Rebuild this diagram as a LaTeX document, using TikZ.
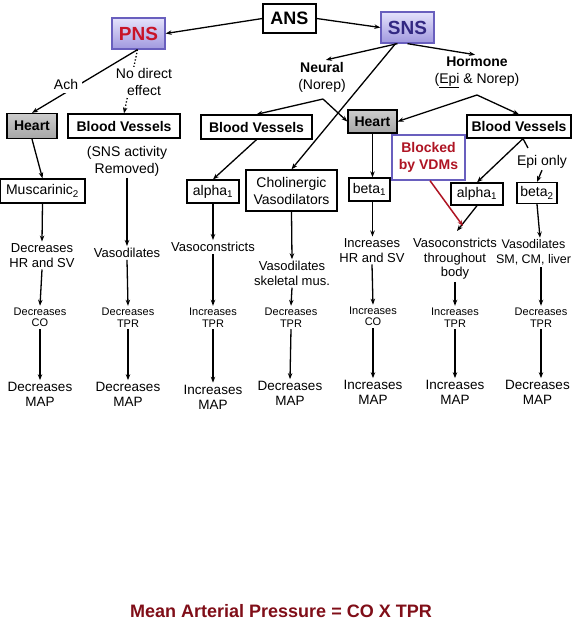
\documentclass[tikz,border=0pt]{standalone}
\usepackage{fontspec}
\setmainfont{Liberation Sans}
\usetikzlibrary{arrows.meta,calc}
\definecolor{pnsred}{RGB}{200,20,40}
\definecolor{snsblue}{RGB}{50,40,130}
\definecolor{lavtop}{RGB}{228,226,252}
\definecolor{lavbot}{RGB}{160,152,222}
\definecolor{lavdraw}{RGB}{105,95,190}
\definecolor{blkred}{RGB}{175,20,35}
\definecolor{titred}{RGB}{128,14,24}
\newcommand\fsz[2]{\fontsize{#1}{#2}\selectfont}
\begin{document}
\begin{tikzpicture}[x=1pt,y=-1pt,
  arr/.style={-{Stealth[length=6pt,width=4.5pt]}, line width=1.3pt},
  ln/.style={line width=1.3pt},
  box/.style={draw, line width=1.3pt, fill=white, inner sep=0pt, align=center, font=\fsz{14}{17}},
  bbox/.style={box, font=\bfseries\fsz{14}{17}},
  heartbox/.style={bbox, top color=gray!40, bottom color=gray!70},
  lavbox/.style={draw=lavdraw, line width=1.3pt, top color=lavtop, bottom color=lavbot, inner sep=0pt, font=\bfseries\fsz{19}{22}},
  lbl/.style={align=center, inner sep=1.5pt, font=\fsz{14}{17}},
  rtwo/.style={align=center, inner sep=2pt, font=\fsz{13}{14.5}},
  rthree/.style={align=center, inner sep=2pt, font=\fsz{11}{11.5}},
  rfour/.style={align=center, inner sep=2pt, font=\fsz{13.5}{15}},
]
\useasboundingbox[fill=white] (0,0) rectangle (572,633);

% top level
\node[box, font=\bfseries\fsz{18}{20}, minimum width=53pt, minimum height=29pt] (ANS) at (289.5,18.5) {ANS};
\node[lavbox, text=pnsred, minimum width=53pt, minimum height=31pt] (PNS) at (138.5,33.5) {PNS};
\node[lavbox, text=snsblue, minimum width=53pt, minimum height=31pt] (SNS) at (407.5,27.5) {SNS};

% second level boxes
\node[heartbox, minimum width=50pt, minimum height=25pt] (H1) at (32,126) {Heart};
\node[bbox, minimum width=112pt, minimum height=24pt] (BV1) at (124,126) {Blood Vessels};
\node[bbox, minimum width=111pt, minimum height=24pt] (BV2) at (256.5,127) {Blood Vessels};
\node[heartbox, minimum width=49pt, minimum height=23pt] (H2) at (372.5,121.5) {Heart};
\node[bbox, minimum width=104pt, minimum height=23pt] (BV3) at (519,126.5) {Blood Vessels};

% receptor boxes
\node[box, minimum width=85pt, minimum height=24pt] (MUS) at (42.5,191) {Muscarinic\textsubscript{2}};
\node[box, minimum width=52pt, minimum height=23pt] (AL1) at (213,191.5) {alpha\textsubscript{1}};
\node[box, minimum width=91pt, minimum height=41pt] (CHO) at (291.5,190.5) {Cholinergic\\Vasodilators};
\node[box, minimum width=41pt, minimum height=23pt] (BE1) at (369.5,189.5) {beta\textsubscript{1}};
\node[box, draw=lavdraw, text=blkred, font=\bfseries\fsz{14}{17}, minimum width=73pt, minimum height=45pt] (BLK) at (428.5,157.5) {Blocked\\by VDMs};
\node[box, minimum width=52pt, minimum height=22pt] (AL2) at (477,194) {alpha\textsubscript{1}};
\node[box, minimum width=40pt, minimum height=21pt] (BE2) at (537,193) {beta\textsubscript{2}};

% labels
\node[lbl] (NEU) at (322,77.5) {\textbf{Neural}\\(Norep)};
\node[lbl] (HOR) at (477,72.5) {\textbf{Hormone}\\(\underline{Epi} \& Norep)};
\node[lbl] (SNSA) at (127,161) {(SNS activity\\Removed)};
\node[lbl] (EPI) at (542,162) {Epi only};

% row 2
\node[rtwo] (R2a) at (42,255.5) {Decreases\\HR and SV};
\node[rtwo] (R2b) at (127,253) {Vasodilates};
\node[rtwo] (R2c) at (213,247) {Vasoconstricts};
\node[rtwo] (R2d) at (292,273.5) {Vasodilates\\skeletal mus.};
\node[rtwo] (R2e) at (372,250.5) {Increases\\HR and SV};
\node[rtwo] (R2f) at (455,259) {Vasoconstricts\\throughout\\body};
\node[rtwo, font=\fsz{12.5}{14.5}] (R2g) at (533.5,252.5) {Vasodilates\\SM, CM, liver};

% row 3
\node[rthree] (R3a) at (40,317.5) {Decreases\\CO};
\node[rthree] (R3b) at (128,317.5) {Decreases\\TPR};
\node[rthree] (R3c) at (213,317.5) {Increases\\TPR};
\node[rthree] (R3d) at (291,317.5) {Decreases\\TPR};
\node[rthree] (R3e) at (373,316.5) {Increases\\CO};
\node[rthree] (R3f) at (455,317.5) {Increases\\TPR};
\node[rthree] (R3g) at (541,317.5) {Decreases\\TPR};

% row 4
\node[rfour] (R4a) at (40,394.5) {Decreases\\MAP};
\node[rfour] (R4b) at (128,394.5) {Decreases\\MAP};
\node[rfour] (R4c) at (213,397) {Increases\\MAP};
\node[rfour] (R4d) at (290,393.5) {Decreases\\MAP};
\node[rfour] (R4e) at (373,392.5) {Increases\\MAP};
\node[rfour] (R4f) at (455,392.5) {Increases\\MAP};
\node[rfour] (R4g) at (537.5,392.5) {Decreases\\MAP};

% title
\node[font=\bfseries\fsz{18}{20}, text=titred] (TIT) at (281,611) {Mean Arterial Pressure = CO X TPR};

% helper coordinates
\coordinate (nb) at (323,99);
\coordinate (hb) at (477,95);
\coordinate (vtR) at (463,226);
\coordinate (vtA) at (457,231);
\coordinate (epitop) at (528,148);

% connectors top
\draw[arr] (ANS.west) -- (PNS.east);
\draw[arr] (ANS.east) -- (SNS.west);
\draw[arr] ($(PNS.south)+(-1,0)$) -- (H1.north);
\node[lbl, fill=white, inner sep=4pt] (ACH) at (66,84) {Ach};
\draw[arr, dotted] ($(PNS.south)+(-1,0)$) -- (BV1.north);
\node[lbl, fill=white, inner sep=1pt] (NOD) at (144,82) {No direct\\effect};
\draw[arr, shorten >=4pt] ($(SNS.south)+(-10,0)$) -- (NEU.north);
\draw[arr, shorten >=2pt] (SNS.south) -- (HOR.north);
\draw[arr] ($(SNS.south)+(-12,0)$) -- (CHO.north);
\draw[arr] (nb) -- (BV2.north);
\draw[arr] (nb) -- (H2.west);
\draw[arr] (hb) -- (H2.east);
\draw[arr] (hb) -- (BV3.north);

% second level to receptors
\draw[arr] (H1.south) -- (MUS.north);
\draw[arr] (BV2.south) -- (AL1.north);
\draw[arr] (H2.south) -- (H2.south |- BE1.north);
\draw[arr] ($(BV3.south)+(4,0)$) -- (AL2.north);
\draw[ln] ($(BV3.south)+(4,0)$) -- (epitop);
\draw[arr] (EPI.south) -- (BE2.north);

% receptors to row 2
\draw[arr] (MUS.south) -- (R2a.north);
\draw[arr] (SNSA.south) -- (R2b.north);
\draw[arr] (AL1.south) -- (R2c.north);
\draw[arr] (CHO.south) -- (R2d.north);
\draw[arr] (BE1.south -| H2.south) -- (R2e.north -| H2.south);
\draw[arr] (AL2.south) -- (vtA);
\draw[arr, draw=blkred, line width=1.5pt] ($(BLK.south)+(1.5,0)$) -- (vtR);
\draw[arr] (BE2.south) -- ($(BE2.south |- R2g.north)+(3,0)$);

% row 2 to row 3
\draw[arr] (R2a.south) -- (R3a.north);
\draw[arr] (R2b.south) -- (R3b.north);
\draw[arr] (R2c.south) -- (R3c.north);
\draw[arr] (R2d.south) -- (R3d.north);
\draw[arr] (R2e.south) -- (R3e.north);
\draw[arr] (R2f.south) -- (R3f.north);
\draw[arr] (R3g.north |- R2g.south) -- (R3g.north);

% row 3 to row 4
\draw[arr] (R3a.south) -- (R4a.north);
\draw[arr] (R3b.south) -- (R4b.north);
\draw[arr] (R3c.south) -- (R4c.north);
\draw[arr] (R3d.south) -- (R4d.north);
\draw[arr] (R3e.south) -- (R4e.north);
\draw[arr] (R3f.south) -- (R4f.north);
\draw[arr] (R3g.south) -- (R3g.south |- R4g.north);
\end{tikzpicture}
\end{document}
